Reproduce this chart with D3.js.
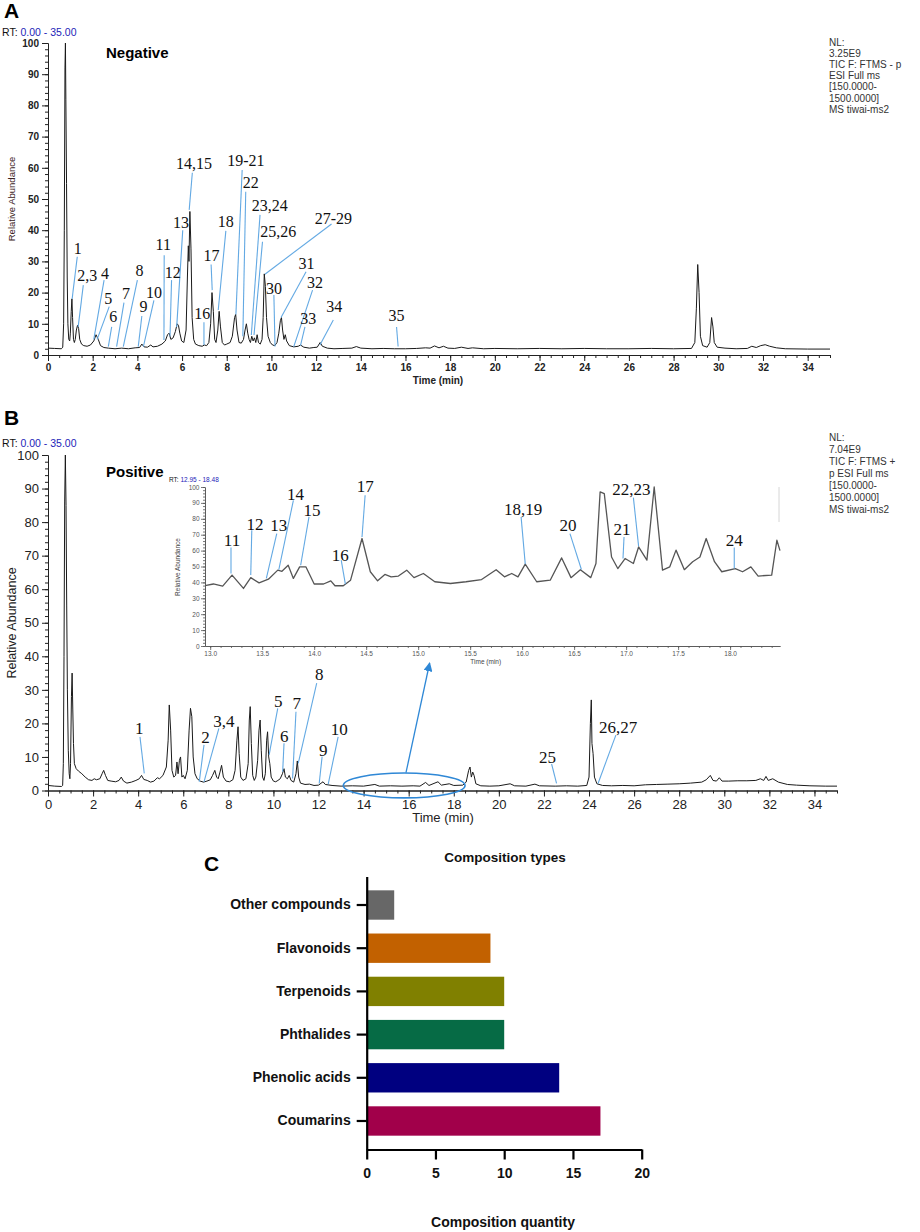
<!DOCTYPE html>
<html lang="en">
<head>
<meta charset="UTF-8">
<title>UPLC-MS chromatograms and composition types</title>
<script src="https://d3js.org/d3.v7.min.js"></script>
<style>
  body { margin: 0; background: #fff; }
  svg { display: block; font-family: "Liberation Sans", Arial, sans-serif; }
  .peak-label { font-family: "Liberation Serif", "Times New Roman", serif; fill: #111; text-anchor: middle; }
  .leader { stroke: #63a9e3; stroke-width: 1.1; fill: none; }
  .trace { fill: none; stroke: #1a1a1a; stroke-width: 1; stroke-linejoin: round; }
</style>
</head>
<body>
<svg id="fig" width="920" height="1232"></svg>
<script>
// ---- panel A : negative mode TIC [time (min), relative abundance] ----
const negTrace = [
  [0, 2.2], [0.3, 2.1], [0.6, 2.0], [0.66, 2.5], [0.7, 10], [0.73, 40], [0.76, 92], [0.78, 100],
  [0.8, 82], [0.83, 55], [0.86, 25], [0.89, 10], [0.93, 5], [0.97, 4.5], [1.0, 7], [1.04, 14],
  [1.07, 18], [1.1, 12], [1.14, 5], [1.18, 4], [1.22, 5], [1.27, 8], [1.32, 9.5], [1.37, 8.5],
  [1.42, 5], [1.5, 3.5], [1.6, 3], [1.75, 2.8], [1.9, 3.2], [2.05, 4.5], [2.15, 6.5], [2.25, 5],
  [2.35, 3], [2.5, 2.4], [2.7, 2.2], [3.0, 2.0], [3.3, 2.2], [3.6, 2.0], [3.9, 2.3], [4.1, 2.4],
  [4.2, 3.5], [4.3, 2.6], [4.45, 2.5], [4.6, 3.2], [4.7, 2.6], [4.9, 2.8], [5.1, 3.5], [5.25, 4.5],
  [5.35, 6.5], [5.42, 7], [5.5, 5], [5.6, 5.5], [5.7, 7.5], [5.78, 10], [5.84, 9.5], [5.9, 7],
  [5.98, 4.5], [6.08, 4], [6.18, 8], [6.24, 25], [6.28, 35], [6.31, 30], [6.35, 46], [6.4, 34],
  [6.45, 12], [6.52, 5], [6.6, 3.5], [6.75, 3], [6.9, 2.8], [7.0, 3.2], [7.1, 3], [7.2, 4],
  [7.28, 10], [7.34, 20], [7.4, 14], [7.46, 5], [7.52, 4], [7.6, 8], [7.66, 14], [7.72, 9],
  [7.8, 4], [7.9, 3.2], [8.0, 3.5], [8.15, 4], [8.25, 6], [8.35, 12], [8.4, 13], [8.46, 8],
  [8.55, 4], [8.65, 3.8], [8.75, 5], [8.82, 8], [8.88, 10], [8.94, 7], [9.0, 5], [9.06, 4],
  [9.12, 6], [9.18, 4.5], [9.24, 5.5], [9.3, 4], [9.36, 6.5], [9.42, 4], [9.5, 3.5], [9.58, 5],
  [9.63, 12], [9.68, 26], [9.73, 22], [9.78, 12], [9.85, 6], [9.95, 4], [10.05, 3.2], [10.15, 3.0],
  [10.25, 4], [10.33, 7], [10.4, 11], [10.45, 12], [10.5, 8], [10.56, 5], [10.62, 6.5], [10.68, 4.5],
  [10.8, 3], [11.0, 2.6], [11.2, 2.8], [11.3, 3.2], [11.45, 2.5], [11.7, 2.2], [11.9, 2.4], [12.05, 2.5],
  [12.18, 4], [12.28, 2.8], [12.5, 2.2], [12.8, 2.0], [13.2, 2.1], [13.6, 2.2], [13.8, 2.7], [14.0, 2.2],
  [14.5, 2.0], [15.0, 2.1], [15.5, 2.0], [16.0, 2.0], [16.5, 2.1], [16.9, 2.3], [17.1, 2.2], [17.3, 2.9],
  [17.5, 2.3], [17.7, 2.8], [17.9, 2.2], [18.2, 2.1], [18.5, 2.5], [18.8, 2.1], [19.0, 2.3], [19.5, 2.0],
  [20.0, 2.1], [21.0, 2.0], [22.0, 2.1], [23.0, 2.0], [24.0, 2.1], [25.0, 2.0], [26.0, 2.0], [27.0, 2.1],
  [28.0, 2.0], [28.8, 2.1], [28.95, 4], [29.02, 15], [29.08, 29], [29.14, 20], [29.2, 6], [29.3, 3],
  [29.5, 2.5], [29.62, 4], [29.7, 12], [29.76, 9], [29.82, 4], [29.95, 2.5], [30.3, 2.2], [30.8, 2.0],
  [31.3, 2.1], [31.5, 2.8], [31.7, 2.4], [31.9, 3.0], [32.1, 3.3], [32.3, 2.8], [32.6, 2.3], [33.0, 2.0],
  [34.0, 1.9], [35.0, 1.9]
];

// ---- panel B : positive mode TIC ----
const posTrace = [
  [0, 1.5], [0.3, 1.3], [0.6, 1.2], [0.65, 1.5], [0.68, 8], [0.71, 40], [0.74, 86], [0.77, 100],
  [0.8, 85], [0.83, 55], [0.86, 30], [0.9, 12], [0.94, 5], [0.97, 3.5], [1.0, 8], [1.04, 28],
  [1.07, 35], [1.1, 24], [1.13, 14], [1.17, 8], [1.25, 6.5], [1.35, 5.8], [1.5, 5], [1.65, 4],
  [1.8, 3.2], [1.95, 3.0], [2.05, 3.5], [2.15, 3.2], [2.3, 3.5], [2.4, 5], [2.47, 6], [2.55, 4.5],
  [2.65, 3], [2.8, 2.8], [3.0, 2.6], [3.15, 3], [3.25, 4], [3.35, 2.8], [3.5, 2.2], [3.7, 2.5],
  [3.9, 3], [4.05, 3.5], [4.15, 4.5], [4.25, 3.3], [4.4, 3], [4.55, 2.5], [4.7, 2.8], [4.85, 3.8],
  [4.95, 3.5], [5.1, 4.5], [5.25, 7], [5.33, 15], [5.38, 25.5], [5.44, 18], [5.5, 6], [5.58, 4],
  [5.66, 4.5], [5.72, 8.5], [5.77, 5], [5.83, 9], [5.88, 10], [5.94, 4], [6.0, 4.5], [6.08, 3.5],
  [6.18, 6], [6.26, 18], [6.32, 24.5], [6.38, 22], [6.44, 10], [6.52, 5], [6.62, 3.5], [6.75, 2.8],
  [6.9, 2.5], [7.05, 2.8], [7.2, 3.2], [7.3, 4.5], [7.4, 6], [7.48, 4], [7.55, 3.5], [7.63, 5.5],
  [7.7, 7.5], [7.78, 4], [7.9, 2.8], [8.05, 2.6], [8.2, 3.2], [8.3, 6], [8.38, 15], [8.43, 19],
  [8.48, 11], [8.55, 4], [8.65, 3], [8.78, 3.5], [8.88, 8], [8.93, 21], [8.97, 25], [9.02, 14],
  [9.08, 4.5], [9.15, 3], [9.22, 4], [9.3, 9], [9.36, 18], [9.41, 21], [9.46, 12], [9.52, 4],
  [9.58, 3], [9.64, 5], [9.7, 15], [9.74, 17.5], [9.79, 10], [9.84, 8], [9.9, 4], [10.0, 2.8],
  [10.1, 2.6], [10.2, 3], [10.3, 3.5], [10.4, 5], [10.47, 6.5], [10.53, 4], [10.62, 3.5], [10.7, 4.5],
  [10.78, 3], [10.9, 2.5], [11.0, 5], [11.06, 8.8], [11.12, 4], [11.2, 2.2], [11.4, 1.8], [11.6, 1.9],
  [11.8, 1.5], [12.0, 1.6], [12.2, 2.6], [12.3, 1.8], [12.6, 1.5], [13.0, 1.3], [13.5, 1.4], [14.0, 1.3],
  [14.5, 1.8], [14.7, 1.3], [15.2, 1.4], [15.7, 1.3], [16.2, 1.4], [16.5, 1.3], [16.75, 2.4], [16.9, 1.5],
  [17.3, 2.6], [17.45, 1.6], [17.8, 2.0], [18.0, 1.5], [18.4, 1.6], [18.55, 2.5], [18.66, 6], [18.72, 7],
  [18.78, 4], [18.84, 5.5], [18.9, 4.5], [18.98, 2], [19.2, 1.4], [19.6, 1.3], [20.0, 1.4], [20.5, 2.0],
  [20.7, 1.4], [21.2, 1.3], [21.6, 1.9], [21.8, 1.4], [22.5, 1.3], [23.0, 1.4], [23.5, 1.3], [23.9, 1.5],
  [24.0, 4], [24.06, 20], [24.1, 27], [24.13, 14], [24.18, 11], [24.24, 4], [24.35, 2], [24.6, 1.5],
  [25.0, 1.4], [25.5, 1.5], [26.0, 1.4], [26.5, 1.7], [27.0, 1.8], [27.5, 1.9], [28.0, 2.0], [28.5, 2.2],
  [29.0, 2.5], [29.2, 3.2], [29.38, 4.5], [29.5, 3], [29.65, 2.8], [29.78, 3.8], [29.9, 2.8], [30.2, 2.8],
  [30.6, 2.9], [31.0, 2.9], [31.4, 3], [31.6, 3.5], [31.75, 3], [31.85, 4.2], [31.95, 3], [32.15, 3.5],
  [32.4, 2.5], [32.8, 1.8], [33.2, 1.6], [33.8, 1.4], [34.5, 1.3], [35.0, 1.3]
];

// ---- inset of panel B : RT 12.95 - 18.48 ----
const insetTrace = [
  [12.95, 38], [13.03, 39], [13.12, 37.7], [13.21, 44.6], [13.32, 36.2], [13.39, 43], [13.47, 39.7],
  [13.56, 42], [13.65, 47.7], [13.69, 47], [13.75, 50.8], [13.8, 42.5], [13.86, 49.8], [13.92, 49.8],
  [14.0, 39], [14.09, 39], [14.16, 41], [14.2, 37.9], [14.28, 37.9], [14.35, 41.4], [14.46, 67.6],
  [14.54, 46.7], [14.61, 41], [14.68, 45], [14.74, 43.5], [14.81, 44], [14.89, 47.7], [14.96, 43],
  [15.05, 45.6], [15.16, 40.4], [15.31, 39.3], [15.46, 40.4], [15.61, 41.8], [15.75, 48], [15.83, 43.5],
  [15.9, 45.6], [15.96, 43.5], [16.03, 51.5], [16.14, 40.4], [16.27, 41.4], [16.38, 55.4], [16.47, 43],
  [16.56, 48], [16.66, 43], [16.71, 51.9], [16.75, 96.9], [16.79, 95.8], [16.86, 56], [16.92, 48.7],
  [16.99, 55], [17.07, 51.9], [17.12, 62.3], [17.2, 54], [17.27, 100], [17.35, 47.7], [17.42, 49.8],
  [17.48, 60.3], [17.56, 48], [17.64, 53], [17.71, 56], [17.77, 67.6], [17.85, 53], [17.92, 46.7],
  [18.05, 48.7], [18.12, 46.7], [18.2, 49.8], [18.27, 44], [18.4, 44.6], [18.45, 66.5], [18.48, 60]
];

// peak labels: [text, label t, label v, leader start t, start v, leader end t, end v]
const negLabels = [
  ["1", 1.33, 34.2, 1.31, 31.5, 1.08, 18], ["2,3", 1.76, 25.6, 1.58, 22.4, 1.35, 9],
  ["4", 2.55, 26.2, 2.51, 24, 2.05, 5], ["5", 2.70, 18.2, 2.74, 15.5, 2.2, 5],
  ["6", 2.92, 12.3, 2.85, 9, 2.70, 2.7], ["7", 3.49, 19.8, 3.40, 16.8, 3.07, 2.7],
  ["8", 4.09, 27, 4.0, 24, 3.37, 2.7], ["9", 4.27, 15.5, 4.2, 12.5, 4.04, 2.7],
  ["10", 4.74, 20, 4.74, 17.5, 4.27, 2.7], ["11", 5.16, 35.3, 5.2, 32, 5.19, 4.8],
  ["12", 5.58, 26.4, 5.53, 24, 5.46, 5.9], ["13", 5.95, 42.4, 6.03, 40, 5.76, 9],
  ["14,15", 6.53, 61.4, 6.46, 58.4, 6.32, 46.5], ["16", 6.9, 13.4, 6.98, 10.5, 6.98, 3.2],
  ["17", 7.32, 31.8, 7.3, 29, 7.35, 20.8], ["18", 7.96, 42.7, 7.96, 39.8, 7.62, 14.4],
  ["19-21", 8.86, 62.5, 8.69, 59.3, 8.41, 13], ["22", 9.07, 55.2, 8.85, 52.3, 8.72, 6],
  ["23,24", 9.93, 48, 9.49, 44.9, 9.1, 6.4], ["25,26", 10.3, 39.5, 9.6, 36.3, 9.22, 6.4],
  ["27-29", 12.77, 43.8, 12.69, 42, 9.71, 25.9], ["30", 10.11, 21.2, 10.11, 19.2, 10.16, 2.7],
  ["31", 11.57, 29.4, 11.55, 26.7, 10.43, 12], ["32", 11.95, 23.2, 11.84, 20.8, 11.0, 2.7],
  ["33", 11.65, 11.8, 11.5, 9, 11.3, 3], ["34", 12.81, 15.5, 12.77, 11.2, 12.17, 3.2],
  ["35", 15.6, 12.6, 15.6, 9, 15.67, 2.7]
];
const posLabels = [
  ["1", 4.05, 18.5, 4.08, 16, 4.27, 5.1], ["2", 6.99, 16, 6.92, 13.6, 6.71, 2.6],
  ["3,4", 7.8, 20.8, 7.58, 18.5, 6.92, 2.6], ["5", 10.21, 26.7, 10.19, 24.5, 9.81, 10.6],
  ["6", 10.48, 16.3, 10.47, 14.1, 10.41, 5.6], ["7", 11.03, 26, 11.0, 23.5, 10.85, 3.6],
  ["8", 12.03, 34.6, 11.92, 32, 11.1, 8.1], ["9", 12.21, 12, 12.16, 10.1, 12.03, 2.1],
  ["10", 12.92, 18.2, 12.87, 16, 12.43, 1.9], ["25", 22.16, 10, 22.34, 7.9, 22.56, 2.1],
  ["26,27", 25.29, 18.8, 25.19, 16.5, 24.4, 2.1]
];
const insetLabels = [
  ["11", 13.21, 66.5, 13.2, 61.9, 13.2, 45.6], ["12", 13.43, 77, 13.4, 72.8, 13.39, 44.6],
  ["13", 13.66, 75.9, 13.64, 70.7, 13.54, 42.5], ["14", 13.82, 95.8, 13.8, 91.6, 13.66, 48.1],
  ["15", 13.98, 85.4, 13.95, 81.2, 13.87, 50.8], ["16", 14.25, 57.5, 14.26, 54, 14.3, 38.9],
  ["17", 14.49, 100.4, 14.49, 94.8, 14.46, 68.6], ["18,19", 16.01, 86.4, 15.99, 81.2, 16.03, 51.5],
  ["20", 16.44, 75.9, 16.46, 70.7, 16.57, 48.1], ["21", 16.96, 73.4, 16.98, 68.6, 16.97, 55],
  ["22,23", 17.05, 99, 17.07, 93.3, 17.12, 62.8], ["24", 18.04, 66.5, 18.04, 61.9, 18.04, 48.7]
];

const negInfo = ["NL:", "3.25E9", "TIC F: FTMS - p", "ESI Full ms", "[150.0000-", "1500.0000]", "MS tiwai-ms2"];
const posInfo = ["NL:", "7.04E9", "TIC F: FTMS +", "p ESI Full ms", "[150.0000-", "1500.0000]", "MS tiwai-ms2"];

// zoomed window marked on panel B (t from, t to, centre v, half height v) and arrow to inset
const zoomWindow = [13.1, 18.5, 1.5, 3.7];
const zoomArrow = [[15.88, 5.3], [16.93, 38]];

// ---- panel C ----
const compTypes = ["Other compounds", "Flavonoids", "Terpenoids", "Phthalides", "Phenolic acids", "Coumarins"];
const compCounts = [2, 9, 10, 10, 14, 17];
const compColors = ["#676767", "#c26100", "#808000", "#066b45", "#000080", "#a1004a"];

const svg = d3.select("#fig");
svg.append("rect").attr("width", 920).attr("height", 1232).attr("fill", "#fff");

const xA = d3.scaleLinear().domain([0, 35]).range([48, 830]);
const yA = d3.scaleLinear().domain([0, 100]).range([355, 43]);
const xB = d3.scaleLinear().domain([0, 35]).range([48, 837]);
const yB = d3.scaleLinear().domain([0, 100]).range([790.5, 455]);
const xI = d3.scaleLinear().domain([12.95, 18.48]).range([205, 780]);
const yI = d3.scaleLinear().domain([0, 100]).range([646, 487]);

function chromAxes(o) {
  const x0 = o.x.range()[0], y0 = o.y.range()[0];
  const pad = o.pad === undefined ? 3 : o.pad;
  const parts = [
    svg.append("g").attr("transform", `translate(${x0},0)`)
      .call(d3.axisLeft(o.y).tickValues(o.yMinor).tickSize(o.minorLen).tickFormat("").tickSizeOuter(0)),
    svg.append("g").attr("transform", `translate(${x0},0)`)
      .call(d3.axisLeft(o.y).tickValues(o.yMajor).tickSize(o.majorLen).tickPadding(pad).tickSizeOuter(0)),
    svg.append("g").attr("transform", `translate(0,${y0})`)
      .call(d3.axisBottom(o.x).tickValues(o.xMinor).tickSize(o.minorLen).tickFormat("").tickSizeOuter(0)),
    svg.append("g").attr("transform", `translate(0,${y0})`)
      .call(d3.axisBottom(o.x).tickValues(o.xMajor).tickSize(o.majorLen).tickPadding(pad).tickSizeOuter(0)
        .tickFormat(o.fmt || (d => d)))
  ];
  parts.forEach(p => {
    p.selectAll("path.domain").attr("stroke", o.color).attr("stroke-width", o.lw);
    p.selectAll(".tick line").attr("stroke", o.color).attr("stroke-width", o.lw);
    p.selectAll(".tick text").attr("fill", o.color).style("font-size", o.font + "px")
      .style("font-weight", o.weight).style("font-family", "'Liberation Sans', Arial, sans-serif");
  });
}

function peakLabels(list, x, y, size) {
  const g = svg.append("g");
  g.selectAll("line").data(list).join("line").attr("class", "leader")
    .attr("x1", d => x(d[3])).attr("y1", d => y(d[4]))
    .attr("x2", d => x(d[5])).attr("y2", d => y(d[6]));
  g.selectAll("text").data(list).join("text").attr("class", "peak-label")
    .style("font-size", size + "px")
    .attr("x", d => x(d[1])).attr("y", d => y(d[2]) + size * 0.35)
    .text(d => d[0]);
}

function rtText(x, y, size, range) {
  const t = svg.append("text").attr("x", x).attr("y", y).style("font-size", size + "px");
  t.append("tspan").attr("fill", "#111").text("RT: ");
  t.append("tspan").attr("fill", "#2323b8").text(range);
}

function infoBlock(lines, x, y, step) {
  svg.append("g").selectAll("text").data(lines).join("text")
    .attr("x", x).attr("y", (d, i) => y + i * step)
    .style("font-size", "10px").attr("fill", "#333").text(d => d);
}

const line = (x, y) => d3.line().x(d => x(d[0])).y(d => y(d[1]));
const minorT = d3.range(0, 71).map(d => d / 2);
const majorT = d3.range(0, 35, 2);

// ================= Panel A =================
svg.append("text").attr("x", 4).attr("y", 18).style("font-size", "21px").style("font-weight", "bold").text("A");
rtText(2, 36, 10.5, "0.00 - 35.00");
chromAxes({ x: xA, y: yA, xMajor: majorT, xMinor: minorT, yMajor: d3.range(0, 101, 10), yMinor: d3.range(0, 101, 2),
  majorLen: 6, minorLen: 3, font: 10, weight: "bold", color: "#222", lw: 1 });
svg.append("text").attr("transform", "translate(15,199) rotate(-90)").attr("text-anchor", "middle")
  .style("font-size", "9.5px").attr("fill", "#3a2222").text("Relative Abundance");
svg.append("text").attr("x", 438).attr("y", 384).attr("text-anchor", "middle")
  .style("font-size", "10px").style("font-weight", "bold").attr("fill", "#222").text("Time (min)");
svg.append("text").attr("x", 106).attr("y", 58).style("font-size", "15px").style("font-weight", "bold").text("Negative");
infoBlock(negInfo, 829, 45.5, 11.2);
svg.append("path").datum(negTrace).attr("class", "trace").attr("d", line(xA, yA));
peakLabels(negLabels, xA, yA, 16);

// ================= Panel B =================
svg.append("text").attr("x", 4).attr("y", 425).style("font-size", "21px").style("font-weight", "bold").text("B");
rtText(2, 447, 10.5, "0.00 - 35.00");
chromAxes({ x: xB, y: yB, xMajor: majorT, xMinor: minorT, yMajor: d3.range(0, 101, 10), yMinor: d3.range(0, 101, 2),
  majorLen: 6, minorLen: 3, font: 13, weight: "normal", color: "#222", lw: 1 });
svg.append("text").attr("transform", "translate(16,623) rotate(-90)").attr("text-anchor", "middle")
  .style("font-size", "12.5px").attr("fill", "#222").text("Relative Abundance");
svg.append("text").attr("x", 443).attr("y", 822).attr("text-anchor", "middle")
  .style("font-size", "13px").attr("fill", "#222").text("Time (min)");
svg.append("text").attr("x", 106).attr("y", 477).style("font-size", "15px").style("font-weight", "bold").text("Positive");
infoBlock(posInfo, 829, 440.5, 12);
svg.append("path").datum(posTrace).attr("class", "trace").attr("d", line(xB, yB));
peakLabels(posLabels, xB, yB, 17);

// zoom window ellipse and arrow
svg.append("defs").append("marker").attr("id", "arrowhead").attr("viewBox", "0 0 10 10")
  .attr("refX", 9).attr("refY", 5).attr("markerWidth", 7).attr("markerHeight", 7).attr("orient", "auto")
  .append("path").attr("d", "M0,0 L10,5 L0,10 z").attr("fill", "#2f88d6");
svg.append("ellipse")
  .attr("cx", (xB(zoomWindow[0]) + xB(zoomWindow[1])) / 2).attr("cy", yB(zoomWindow[2]))
  .attr("rx", (xB(zoomWindow[1]) - xB(zoomWindow[0])) / 2).attr("ry", yB(0) - yB(zoomWindow[3]))
  .attr("fill", "none").attr("stroke", "#2f88d6").attr("stroke-width", 1.6);
svg.append("line")
  .attr("x1", xB(zoomArrow[0][0])).attr("y1", yB(zoomArrow[0][1]))
  .attr("x2", xB(zoomArrow[1][0])).attr("y2", yB(zoomArrow[1][1]))
  .attr("stroke", "#2f88d6").attr("stroke-width", 1.3).attr("marker-end", "url(#arrowhead)");

// inset
rtText(169, 482, 6.5, "12.95 - 18.48");
chromAxes({ x: xI, y: yI, xMajor: d3.range(26, 37).map(d => d / 2), xMinor: d3.range(130, 185).map(d => d / 10),
  yMajor: d3.range(0, 101, 10), yMinor: d3.range(0, 101, 2), majorLen: 4, minorLen: 2, pad: 1.5,
  font: 6.5, weight: "normal", color: "#555", lw: 0.8, fmt: d3.format(".1f") });
svg.append("text").attr("transform", "translate(180,567) rotate(-90)").attr("text-anchor", "middle")
  .style("font-size", "6.5px").attr("fill", "#444").text("Relative Abundance");
svg.append("text").attr("x", xI(15.65)).attr("y", 664).attr("text-anchor", "middle")
  .style("font-size", "6.5px").attr("fill", "#444").text("Time (min)");
svg.append("line").attr("x1", 779).attr("x2", 779).attr("y1", 487).attr("y2", 522)
  .attr("stroke", "#ccc").attr("stroke-width", 0.8);
svg.append("path").datum(insetTrace).attr("d", line(xI, yI))
  .attr("fill", "none").attr("stroke", "#555").attr("stroke-width", 1.3).attr("stroke-linejoin", "round");
peakLabels(insetLabels, xI, yI, 17);

// ================= Panel C =================
const xC = d3.scaleLinear().domain([0, 20]).range([366.7, 641.7]);
const yC = d3.scaleBand().domain(compTypes).range([876.5, 1149.5]).paddingInner(0.32).paddingOuter(0.32);

svg.append("text").attr("x", 204).attr("y", 871).style("font-size", "21px").style("font-weight", "bold").text("C");
svg.append("text").attr("x", 505).attr("y", 862).attr("text-anchor", "middle")
  .style("font-size", "13.5px").style("font-weight", "bold").attr("fill", "#111").text("Composition types");

svg.append("g").selectAll("rect").data(compTypes).join("rect")
  .attr("x", xC(0)).attr("y", d => yC(d))
  .attr("width", (d, i) => xC(compCounts[i]) - xC(0)).attr("height", yC.bandwidth())
  .attr("fill", (d, i) => compColors[i]);

const axC = [
  svg.append("g").attr("transform", `translate(${xC(0)},0)`)
    .call(d3.axisLeft(yC).tickSize(10).tickPadding(6).tickSizeOuter(0)),
  svg.append("g").attr("transform", `translate(0,${yC.range()[1]})`)
    .call(d3.axisBottom(xC).tickValues([0, 5, 10, 15, 20]).tickSize(10).tickPadding(9).tickSizeOuter(0))
];
axC.forEach(a => {
  a.selectAll("path.domain").attr("stroke", "#000").attr("stroke-width", 2.2);
  a.selectAll(".tick line").attr("stroke", "#000").attr("stroke-width", 2.2);
  a.selectAll(".tick text").attr("fill", "#111").style("font-size", "14px").style("font-weight", "bold")
    .style("font-family", "'Liberation Sans', Arial, sans-serif");
});
svg.append("text").attr("x", 503).attr("y", 1227).attr("text-anchor", "middle")
  .style("font-size", "14px").style("font-weight", "bold").attr("fill", "#111").text("Composition quantity");
</script>
</body>
</html>
